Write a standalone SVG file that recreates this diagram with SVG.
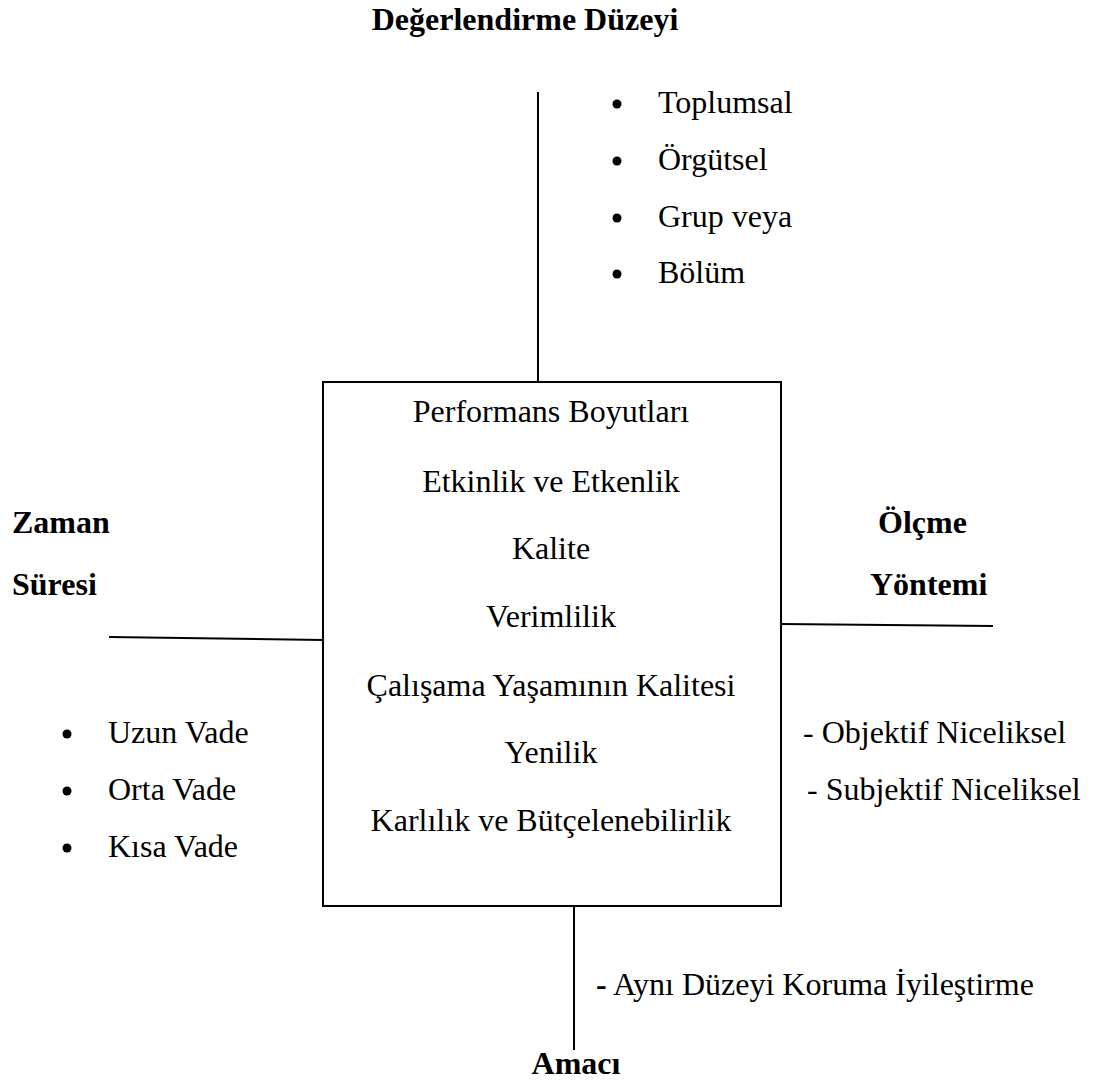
<svg xmlns="http://www.w3.org/2000/svg" width="1093" height="1084" viewBox="0 0 1093 1084">
  <style>
    text { font-family: "Liberation Serif", "Times New Roman", serif; font-size: 32px; fill: #000; }
    .bold { font-weight: bold; }
    .mid { text-anchor: middle; }
    .line { stroke: #000; stroke-width: 2; fill: none; }
    .dot { fill: #000; }
  </style>
  <rect width="1093" height="1084" fill="#fff"/>

  <!-- connectors from the central box to the four headings -->
  <g id="connectors">
    <line class="line" x1="538" y1="92" x2="538" y2="382"/>
    <line class="line" x1="109" y1="637" x2="323" y2="640"/>
    <line class="line" x1="781" y1="624" x2="993" y2="626"/>
    <line class="line" x1="574" y1="906" x2="574" y2="1050"/>
  </g>

  <!-- central box: performance dimensions -->
  <g id="performans-boyutlari">
    <rect class="line" x="323" y="382" width="458" height="524"/>
    <text class="mid" x="551" y="422">Performans Boyutları</text>
    <text class="mid" x="551" y="492">Etkinlik ve Etkenlik</text>
    <text class="mid" x="551" y="559">Kalite</text>
    <text class="mid" x="551" y="627">Verimlilik</text>
    <text class="mid" x="551" y="696">Çalışama Yaşamının Kalitesi</text>
    <text class="mid" x="551" y="763">Yenilik</text>
    <text class="mid" x="551" y="831">Karlılık ve Bütçelenebilirlik</text>
  </g>

  <!-- top: evaluation level -->
  <g id="degerlendirme-duzeyi">
    <text class="bold mid" x="525" y="30">Değerlendirme Düzeyi</text>
    <circle class="dot" cx="617" cy="104" r="4.5"/>
    <text x="658" y="113">Toplumsal</text>
    <circle class="dot" cx="617" cy="161" r="4.5"/>
    <text x="658" y="170">Örgütsel</text>
    <circle class="dot" cx="617" cy="218" r="4.5"/>
    <text x="658" y="227">Grup veya</text>
    <circle class="dot" cx="617" cy="274" r="4.5"/>
    <text x="658" y="283">Bölüm</text>
  </g>

  <!-- left: time span -->
  <g id="zaman-suresi">
    <text class="bold" x="12" y="533">Zaman</text>
    <text class="bold" x="12" y="595">Süresi</text>
    <circle class="dot" cx="67" cy="734" r="4.5"/>
    <text x="108" y="743">Uzun Vade</text>
    <circle class="dot" cx="67" cy="791" r="4.5"/>
    <text x="108" y="800">Orta Vade</text>
    <circle class="dot" cx="67" cy="848" r="4.5"/>
    <text x="108" y="857">Kısa Vade</text>
  </g>

  <!-- right: measurement method -->
  <g id="olcme-yontemi">
    <text class="bold" x="878" y="533">Ölçme</text>
    <text class="bold" x="870" y="595">Yöntemi</text>
    <text x="803" y="743">- Objektif Niceliksel</text>
    <text x="807" y="800">- Subjektif Niceliksel</text>
  </g>

  <!-- bottom: purpose -->
  <g id="amaci">
    <text x="596" y="995"><tspan class="bold">-</tspan> Aynı Düzeyi Koruma İyileştirme</text>
    <text class="bold mid" x="576" y="1074">Amacı</text>
  </g>
</svg>
